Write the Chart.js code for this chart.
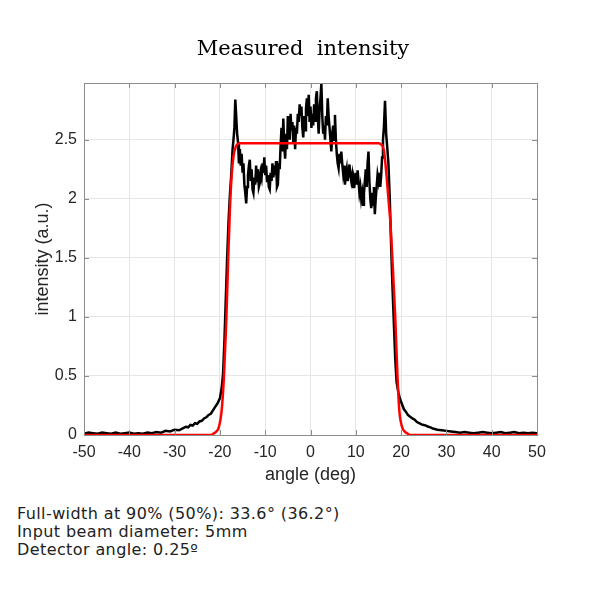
<!DOCTYPE html>
<html>
<head>
<meta charset="utf-8">
<script src="https://cdn.jsdelivr.net/npm/chart.js"></script>
<style>
    body { margin: 0; background: #fff; }
    #wrap { position: relative; width: 600px; height: 600px; }
    #title {
        position: absolute; left: 0; top: 36px; width: 606px; text-align: center;
        font-family: "DejaVu Serif", serif; font-size: 21px; color: #000;
        white-space: pre;
    }
    #note {
        position: absolute; left: 17px; top: 505px;
        font-family: "DejaVu Sans", Verdana, sans-serif; font-size: 16px;
        line-height: 18px; color: #222; letter-spacing: 0.4px;
    }
</style>
</head>
<body>
<div id="wrap">
    <canvas id="myChart" width="600" height="490"></canvas>
    <div id="title">Measured  intensity</div>
    <div id="note">
        Full-width at 90% (50%): 33.6° (36.2°)<br>
        Input beam diameter: 5mm<br>
        Detector angle: 0.25º
    </div>
</div>
<script>
// measured profile (black)
const measuredAngle = [
    -50, -49, -48, -47, -46, -45, -44, -43, -42, -41,
    -40, -39, -38, -37, -36, -35, -34, -33, -32, -31,
    -30, -29, -28, -27.5, -27, -26.5, -26, -25.5, -25, -24.5,
    -24, -23.5, -23, -22.5, -22, -21.5, -21, -20.5, -20, -19.6,
    -19.3, -19, -18.7, -18.4, -18.1, -17.8, -17.5, -17.2, -17, -16.8,
    -16.6, -16.4, -16.2, -16, -15.8, -15.6, -15.4, -15.2, -15, -14.8,
    -14.6, -14.4, -14.2, -14, -13.8, -13.6, -13.4, -13.2, -13, -12.8,
    -12.6, -12.4, -12.2, -12, -11.8, -11.6, -11.4, -11.2, -11, -10.8,
    -10.6, -10.4, -10.2, -10, -9.8, -9.6, -9.4, -9.2, -9, -8.8,
    -8.6, -8.4, -8.2, -8, -7.8, -7.6, -7.4, -7.2, -7, -6.8,
    -6.6, -6.4, -6.2, -6, -5.8, -5.6, -5.4, -5.2, -5, -4.8,
    -4.6, -4.4, -4.2, -4, -3.8, -3.6, -3.4, -3.2, -3, -2.8,
    -2.6, -2.4, -2.2, -2, -1.8, -1.6, -1.4, -1.2, -1, -0.8,
    -0.6, -0.4, -0.2, 0, 0.2, 0.4, 0.6, 0.8, 1, 1.2,
    1.4, 1.6, 1.8, 2, 2.2, 2.4, 2.6, 2.8, 3, 3.2,
    3.4, 3.6, 3.8, 4, 4.2, 4.4, 4.6, 4.8, 5, 5.2,
    5.4, 5.6, 5.8, 6, 6.2, 6.4, 6.6, 6.8, 7, 7.2,
    7.4, 7.6, 7.8, 8, 8.2, 8.4, 8.6, 8.8, 9, 9.2,
    9.4, 9.6, 9.8, 10, 10.2, 10.4, 10.6, 10.8, 11, 11.2,
    11.4, 11.6, 11.8, 12, 12.2, 12.4, 12.6, 12.8, 13, 13.2,
    13.4, 13.6, 13.8, 14, 14.2, 14.4, 14.6, 14.8, 15, 15.2,
    15.4, 15.6, 15.8, 16, 16.2, 16.45, 16.7, 16.95, 17.2, 17.5,
    17.8, 18.1, 18.4, 18.7, 19, 19.4, 19.8, 20.2, 20.6, 21,
    21.5, 22, 22.5, 23, 23.5, 24, 24.5, 25, 25.5, 26,
    26.5, 27, 28, 29, 30, 31, 32, 33, 34, 35,
    36, 37, 38, 39, 40, 41, 42, 43, 44, 45,
    46, 47, 48, 49, 50
];
const measuredIntensity = [
    0.01, 0.02, 0.015, 0.01, 0.02, 0.015, 0.01, 0.02, 0.01, 0.015,
    0.02, 0.01, 0.015, 0.01, 0.02, 0.015, 0.025, 0.02, 0.035, 0.03,
    0.045, 0.04, 0.06, 0.07, 0.065, 0.085, 0.08, 0.1, 0.095, 0.115,
    0.12, 0.14, 0.15, 0.17, 0.18, 0.21, 0.24, 0.27, 0.31, 0.4,
    0.52, 0.8, 1.15, 1.5, 1.8, 2.03, 2.2, 2.42, 2.5, 2.6,
    2.84, 2.7, 2.55, 2.48, 2.3, 2.42, 2.28, 2.38, 2.22, 2.3,
    2.12, 2.05, 1.96, 2.1, 2.2, 2.28, 2.33, 2.15, 2.25, 2.08,
    2.05, 2.18, 2.12, 2.28, 2.15, 2.25, 2.1, 2.13, 2.22, 2.18,
    2.3, 2.22, 2.35, 2.2, 2.28, 2.15, 2.2, 2.1, 2.08, 2.22,
    2.15, 2.3, 2.18, 2.28, 2.2, 2.32, 2.1, 2.12, 2.3, 2.25,
    2.45, 2.6, 2.4, 2.68, 2.45, 2.34, 2.55, 2.42, 2.7, 2.6,
    2.5, 2.72, 2.58, 2.65, 2.48, 2.62, 2.42, 2.6, 2.55, 2.72,
    2.65, 2.8, 2.7, 2.78, 2.6, 2.52, 2.7, 2.58, 2.76, 2.85,
    2.7, 2.88, 2.65, 2.78, 2.6, 2.72, 2.62, 2.8, 2.66, 2.85,
    2.91, 2.7, 2.55, 2.75, 2.85, 2.98, 2.7, 2.55, 2.62, 2.5,
    2.7, 2.62, 2.85, 2.7, 2.6, 2.5, 2.4, 2.55, 2.62, 2.5,
    2.71, 2.5, 2.38, 2.3, 2.26, 2.38, 2.3, 2.4, 2.3, 2.22,
    2.28, 2.12, 2.2, 2.25, 2.15, 2.22, 2.29, 2.2, 2.15, 2.2,
    2.1, 2.18, 2.15, 2.22, 2.12, 2.24, 2.15, 2.05, 2.1, 2.0,
    2.05, 1.95, 2.05, 2.15, 2.25, 2.1, 2.3, 2.4, 2.15, 2.0,
    1.92, 2.05, 1.95, 2.1, 1.87, 2.0, 2.1, 2.2, 2.15, 2.22,
    2.1, 2.2, 2.35, 2.5, 2.6, 2.83, 2.55, 2.43, 2.3, 2.0,
    1.6, 1.25, 0.95, 0.65, 0.45, 0.36, 0.3, 0.26, 0.22, 0.2,
    0.17, 0.155, 0.14, 0.13, 0.11, 0.1, 0.09, 0.085, 0.08, 0.07,
    0.065, 0.055, 0.045, 0.04, 0.035, 0.03, 0.025, 0.02, 0.025, 0.02,
    0.015, 0.02, 0.025, 0.02, 0.015, 0.02, 0.025, 0.015, 0.02, 0.025,
    0.015, 0.02, 0.015, 0.02, 0.015
];

// fitted top-hat (red)
const fitAngle = [
    -50, -22, -21.5, -20.8, -20.2, -19.6, -19.1, -18.6, -18.2, -17.8,
    -17.4, -17, -16.5, -16, -15.5, 15, 15.6, 16.2, 16.8, 17.2,
    17.6, 18.2, 18.7, 19.2, 19.6, 20.2, 20.8, 21.5, 22, 50
];
const fitIntensity = [
    0, 0, 0.01, 0.03, 0.07, 0.21, 0.5, 0.95, 1.45, 1.9,
    2.2, 2.36, 2.44, 2.465, 2.47, 2.47, 2.46, 2.41, 2.19, 2.0,
    1.82, 1.4, 1.0, 0.5, 0.21, 0.07, 0.03, 0.01, 0, 0
];

const xTicks = [-50, -40, -30, -20, -10, 0, 10, 20, 30, 40, 50];
const yTicks = [0, 0.5, 1, 1.5, 2, 2.5];

const axisColor = '#262626';
const tickFont = { family: 'Liberation Sans, Arial, sans-serif', size: 16 };
const labelFont = { family: 'Liberation Sans, Arial, sans-serif', size: 18 };

// MATLAB-like box with inward ticks
const boxPlugin = {
    id: 'box',
    afterDraw(chart) {
        const ctx = chart.ctx;
        const a = chart.chartArea;
        const xs = chart.scales.x, ys = chart.scales.y;
        ctx.save();
        ctx.strokeStyle = '#8c8c8c';
        ctx.lineWidth = 1;
        ctx.strokeRect(a.left + 0.5, a.top + 0.5, a.right - a.left, a.bottom - a.top);
        ctx.beginPath();
        xTicks.forEach(function (v) {
            const px = Math.round(xs.getPixelForValue(v)) + 0.5;
            ctx.moveTo(px, a.bottom); ctx.lineTo(px, a.bottom - 5);
            ctx.moveTo(px, a.top); ctx.lineTo(px, a.top + 5);
        });
        yTicks.forEach(function (v) {
            const py = Math.round(ys.getPixelForValue(v)) + 0.5;
            ctx.moveTo(a.left, py); ctx.lineTo(a.left + 5, py);
            ctx.moveTo(a.right, py); ctx.lineTo(a.right - 5, py);
        });
        ctx.stroke();
        ctx.restore();
    }
};

const chart = new Chart(document.getElementById('myChart'), {
    type: 'line',
    data: {
        datasets: [{
            label: 'fit',
            data: fitAngle.map(function (x, i) { return { x: x, y: fitIntensity[i] }; }),
            borderColor: '#ff0000',
            borderWidth: 2.5,
            pointRadius: 0,
            cubicInterpolationMode: 'monotone',
            order: 0
        }, {
            label: 'measured',
            data: measuredAngle.map(function (x, i) { return { x: x, y: measuredIntensity[i] }; }),
            borderColor: '#000000',
            borderWidth: 2.5,
            pointRadius: 0,
            tension: 0,
            order: 1
        }]
    },
    options: {
        responsive: false,
        animation: false,
        layout: { padding: { left: 0, right: 63, top: 83, bottom: 0 } },
        plugins: {
            legend: { display: false },
            tooltip: { enabled: false },
            title: { display: false }
        },
        scales: {
            x: {
                type: 'linear',
                min: -50,
                max: 50,
                afterFit: function (s) { s.height = 55; },
                ticks: { stepSize: 10, color: axisColor, font: tickFont, padding: 8, maxRotation: 0 },
                grid: { color: '#e6e6e6', drawTicks: false },
                border: { display: false },
                title: {
                    display: true, text: 'angle (deg)', color: axisColor, font: labelFont,
                    padding: { top: 4, bottom: 4 }
                }
            },
            y: {
                min: 0,
                max: 2.98,
                afterFit: function (s) { s.width = 84; },
                ticks: {
                    stepSize: 0.5, includeBounds: false, color: axisColor, font: tickFont, padding: 7,
                    callback: function (v) { return String(v); }
                },
                grid: { color: '#e6e6e6', drawTicks: false },
                border: { display: false },
                title: {
                    display: true, text: 'intensity (a.u.)', color: axisColor, font: labelFont,
                    padding: { top: 32, bottom: 32 }
                }
            }
        }
    },
    plugins: [boxPlugin]
});
</script>
</body>
</html>
